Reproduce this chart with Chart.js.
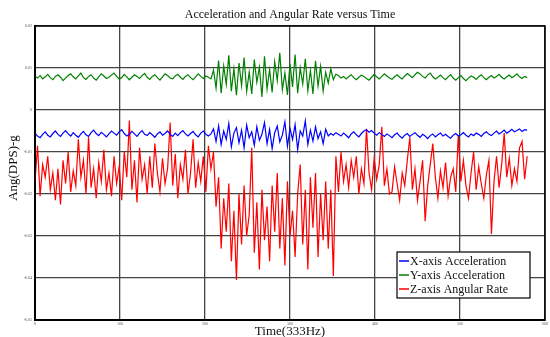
<!DOCTYPE html>
<html lang="en">
<head>
    <meta charset="UTF-8">
    <title>Acceleration and Angular Rate versus Time</title>
    <style>
        body {
            margin: 0;
            background: #fff;
        }
        #wrap {
            width: 550px;
            height: 337px;
        }
    </style>
</head>
<body>
    <div id="wrap"><canvas id="imuChart"></canvas></div>
    <script src="https://cdn.jsdelivr.net/npm/chart.js"></script>
    <script>
        // one point every 3 samples, values in units of 1e-4
        const sampleStep = 3;
        const unit = 1e-4;

        const xAccel = [
            -55, -62, -66, -58, -52, -60, -64, -56, -50, -58, -63, -55, -49, -57, -62, -54, -60, -65, -57, -51,
            -59, -63, -54, -48, -56, -61, -53, -58, -64, -57, -50, -55, -60, -52, -47, -56, -62, -58, -51, -57,
            -63, -55, -49, -58, -61, -54, -59, -65, -57, -52, -60, -56, -50, -58, -63, -55, -61, -54, -49, -57,
            -62, -56, -51, -59, -64, -55, -50, -58, -62, -57,
            -45, -75, -38, -82, -50, -70, -32, -88, -55, -42,
            -78, -48, -90, -36, -66, -52, -84, -40, -72, -58,
            -30, -80, -46, -92, -54, -38, -76, -60, -28, -86,
            -44, -70, -35, -94, -50, -62, -26, -82, -48, -74,
            -40, -68, -52, -80, -46, -62, -56, -60, -54,
            -58, -62, -55, -60, -66, -57, -52, -59, -64, -56,
            -50, -47, -53, -49, -55, -60, -54, -58, -63, -57,
            -61, -66, -59, -55, -62, -67, -60, -56, -63, -58,
            -54, -60, -65, -58, -62, -68, -61, -57, -64, -59,
            -55, -62, -58, -63, -67, -60, -56, -62, -59, -54,
            -60, -64, -57, -61, -55, -58, -63, -56, -52, -58,
            -61, -55, -50, -57, -53, -48, -55, -51, -46, -52,
            -49, -45, -51, -47, -48
        ];

        const yAccel = [
            80, 76, 82, 74, 79, 85, 77, 72, 80, 84, 78, 70, 76, 82, 86, 79, 74, 81, 88, 77,
            73, 80, 84, 76, 71, 79, 86, 81, 75, 78, 83, 88, 80, 74, 77, 85, 79, 72, 78, 84,
            80, 75, 82, 87, 78, 73, 80, 84, 77, 71, 79, 86, 82, 76, 74, 81, 85, 78, 73, 80,
            84, 77, 72, 79, 86, 80, 75, 81, 78, 74,
            95, 52, 118, 40, 105, 61, 130, 45, 98, 35,
            112, 58, 125, 44, 90, 38, 120, 66, 102, 31,
            128, 50, 96, 42, 115, 70, 136, 48, 88, 36,
            110, 55, 132, 40, 100, 62, 122, 46, 94, 38,
            117, 57, 104, 45, 90, 64, 98, 72, 85,
            82, 76, 80, 74, 79, 84, 77, 72, 78, 83,
            80, 75, 71, 78, 85, 79, 74, 80, 86, 81,
            76, 73, 79, 84, 78, 74, 81, 87, 82, 77,
            84, 90, 86, 80, 76, 83, 88, 79, 74, 78,
            83, 77, 72, 79, 84, 76, 71, 77, 82, 75,
            70, 76, 81, 78, 73, 79, 84, 77, 72, 78,
            82, 76, 80, 85, 78, 74, 79, 83, 77, 81,
            86, 79, 75, 80, 77
        ];

        const zRate = [
            -170, -85, -205, -130, -160, -110, -190, -150, -215, -140,
            -225, -120, -175, -100, -195, -145, -180, -70, -160, -120,
            -200, -65, -185, -140, -210, -125, -170, -95, -190, -150,
            -205, -110, -175, -135, -215, -100, -160, -25, -190, -120,
            -220, -90, -165, -130, -200, -110, -185, -80, -150, -195,
            -115, -175, -140, -30, -180, -105, -210, -130, -165, -95,
            -200, -150, -70, -185, -125, -170, -110, -195, -85, -140,
            -100, -230, -160, -330, -210, -290, -175, -360, -240, -405,
            -200, -320, -180, -300, -250, -90, -340, -220, -380, -190,
            -310, -230, -360, -180, -290, -150, -330, -210, -370, -170,
            -300, -240, -350, -200, -130, -320, -190, -380, -160, -280,
            -150, -350, -200, -310, -170, -330, -190, -395, -110,
            -195, -100, -170, -130, -185, -120, -160, -110, -200, -140,
            -175, -45, -150, -190, -115, -165, -130, -40, -180, -140,
            -200, -195, -135, -175, -215, -150, -180, -120, -65, -190,
            -140, -215, -170, -120, -265, -180, -130, -80, -160, -210,
            -145, -185, -125, -205, -160, -140, -195, -60, -170, -120,
            -180, -210, -150, -100, -190, -135, -175, -210, -155, -120,
            -295, -170, -110, -185, -130, -55, -160, -115, -180, -140,
            -170, -90, -75, -165, -110
        ];

        const seriesNames = ['X-axis Acceleration', 'Y-axis Acceleration', 'Z-axis Angular Rate'];
        const seriesColors = ['#0000ff', '#008000', '#ff0000'];
        const yTicks = [0.02, 0.01, 0, -0.01, -0.02, -0.03, -0.04, -0.05];
        const xTicks = [0, 100, 200, 300, 400, 500, 600];

        const serif = "'Liberation Serif', 'DejaVu Serif', serif";

        function toPoints(arr) {
            return arr.map((v, i) => ({ x: i * sampleStep, y: v * unit }));
        }

        // frame, titles and the boxed legend
        const extras = {
            id: 'extras',
            afterDraw(chart) {
                const ctx = chart.ctx;
                const a = chart.chartArea;
                ctx.save();
                ctx.strokeStyle = '#000';
                ctx.lineWidth = 1.5;
                ctx.strokeRect(a.left, a.top, a.right - a.left, a.bottom - a.top);

                ctx.fillStyle = '#111';
                ctx.textAlign = 'center';
                ctx.textBaseline = 'middle';
                ctx.font = '12px ' + serif;
                ctx.fillText('Acceleration and Angular Rate versus Time', (a.left + a.right) / 2, 15);

                ctx.font = '13px ' + serif;
                ctx.fillText('Time(333Hz)', (a.left + a.right) / 2, 332);

                ctx.save();
                ctx.translate(14, 168);
                ctx.rotate(-Math.PI / 2);
                ctx.fillText('Ang(DPS)-g', 0, 0);
                ctx.restore();

                // legend
                const lx = 397, ly = 252, lw = 133, lh = 46;
                ctx.fillStyle = '#fff';
                ctx.fillRect(lx, ly, lw, lh);
                ctx.lineWidth = 1.2;
                ctx.strokeRect(lx, ly, lw, lh);
                ctx.font = '12px ' + serif;
                ctx.textAlign = 'left';
                chart.data.datasets.forEach((ds, i) => {
                    const y = ly + 9 + i * 14;
                    ctx.strokeStyle = ds.borderColor;
                    ctx.lineWidth = 1.5;
                    ctx.beginPath();
                    ctx.moveTo(lx + 2, y);
                    ctx.lineTo(lx + 12, y);
                    ctx.stroke();
                    ctx.fillStyle = '#111';
                    ctx.fillText(ds.label, lx + 13, y + 1);
                });
                ctx.restore();
            }
        };

        const ctx = document.getElementById('imuChart').getContext('2d');
        new Chart(ctx, {
            type: 'line',
            data: {
                datasets: [xAccel, yAccel, zRate].map((arr, i) => ({
                    label: seriesNames[i],
                    data: toPoints(arr),
                    borderColor: seriesColors[i],
                    backgroundColor: seriesColors[i],
                    borderWidth: 1.2,
                    pointRadius: 0,
                    tension: 0,
                    fill: false
                }))
            },
            options: {
                responsive: true,
                maintainAspectRatio: false,
                animation: false,
                layout: { padding: { top: 26, right: 2, left: 0, bottom: 0 } },
                plugins: {
                    legend: { display: false },
                    title: { display: false },
                    tooltip: { enabled: false }
                },
                scales: {
                    x: {
                        type: 'linear',
                        min: 0,
                        max: 600,
                        afterBuildTicks: s => { s.ticks = xTicks.map(v => ({ value: v })); },
                        afterFit: s => { s.height = 17; },
                        grid: { color: '#444', lineWidth: 1.3, drawTicks: false },
                        border: { color: '#000', width: 2 },
                        ticks: {
                            padding: 2,
                            maxRotation: 0,
                            color: '#555',
                            font: { family: serif, size: 4 }
                        }
                    },
                    y: {
                        min: -0.05,
                        max: 0.02,
                        afterBuildTicks: s => { s.ticks = yTicks.map(v => ({ value: v })); },
                        afterFit: s => { s.width = 35; },
                        grid: { color: '#444', lineWidth: 1.3, drawTicks: false },
                        border: { color: '#000', width: 2 },
                        ticks: {
                            padding: 3,
                            color: '#555',
                            font: { family: serif, size: 4 },
                            callback: v => String(Math.round(v * 100) / 100)
                        }
                    }
                }
            },
            plugins: [extras]
        });
    </script>
</body>
</html>
